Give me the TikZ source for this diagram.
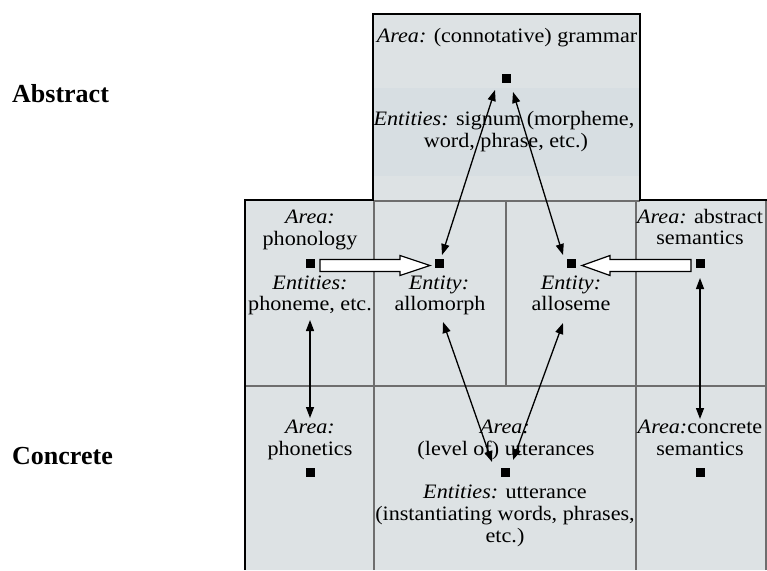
\documentclass[tikz,border=0pt]{standalone}
\usepackage{fontspec}
\setmainfont{Liberation Serif}[FakeStretch=1.08]
\newfontfamily\sidefont{Liberation Serif}
\usetikzlibrary{arrows.meta,calc}

\definecolor{cellfill}{RGB}{221,226,228}
\definecolor{bandfill}{RGB}{215,222,226}
\definecolor{gridgray}{RGB}{110,110,110}

\begin{document}
\begin{tikzpicture}[x=1pt,y=-1pt,
  txt/.style={anchor=base,inner sep=0pt,font=\fontsize{20.5}{22}\selectfont},
  side/.style={anchor=base west,inner sep=0pt,font=\sidefont\bfseries\fontsize{26}{30}\selectfont},
  dot/.style={fill=black,minimum size=9pt,inner sep=0pt},
  link/.style={line width=1.3pt,{Triangle[length=11pt,width=8pt]}-{Triangle[length=11pt,width=8pt]}},
  blockarrow/.style={draw=black,fill=white,line width=1.2pt,line join=miter},
  frame/.style={line width=2.8pt,line join=miter},
  gridline/.style={gridgray,line width=1.2pt}]

\useasboundingbox (0,0) rectangle (767,570);

% shaded area of the diagram
\fill[cellfill] (245,570) -- (245,200) -- (373,200) -- (373,14) -- (640,14)
  -- (640,200) -- (766,200) -- (766,570) -- cycle;
\fill[bandfill] (373,88) rectangle (640,176);

% cell divisions
\draw[gridline] (373,201) -- (640,201);
\draw[gridline] (374,200) -- (374,570);
\draw[gridline] (506,200) -- (506,386);
\draw[gridline] (636,200) -- (636,570);
\draw[gridline] (245,386) -- (766,386);
\draw[gridline] (766,200) -- (766,570);

% outer frame
\draw[frame] (245,570) -- (245,200) -- (373,200) -- (373,14) -- (640,14)
  -- (640,200) -- (767,200);

% level labels
\node[side] (abs) at (12,102) {Abstract};
\node[side] (con) at (12,464) {Concrete};

% grammar
\node[txt] (g1) at (507,42) {\textit{Area:} (connotative) grammar};
\node[txt] (g2) at (504,125) {\textit{Entities:} signum (morpheme,};
\node[txt] (g3) at (506,147) {word, phrase, etc.)};

% phonology
\node[txt] (p1) at (310,223) {\textit{Area:}};
\node[txt] (p2) at (310,245) {phonology};
\node[txt] (p3) at (310,289) {\textit{Entities:}};
\node[txt] (p4) at (310,310) {phoneme, etc.};

% allomorph
\node[txt] (m1) at (439,289) {\textit{Entity:}};
\node[txt] (m2) at (440,310) {allomorph};

% alloseme
\node[txt] (s1) at (571,289) {\textit{Entity:}};
\node[txt] (s2) at (571,310) {alloseme};

% abstract semantics
\node[txt] (a1) at (700,223) {\textit{Area:} abstract};
\node[txt] (a2) at (700,244) {semantics};

% phonetics
\node[txt] (t1) at (310,433) {\textit{Area:}};
\node[txt] (t2) at (310,455) {phonetics};

% utterances
\node[txt] (u1) at (505,433) {\textit{Area:}};
\node[txt] (u2) at (506,455) {(level of) utterances};
\node[txt] (u3) at (505,498) {\textit{Entities:} utterance};
\node[txt] (u4) at (505,520) {(instantiating words, phrases,};
\node[txt] (u5) at (505,542) {etc.)};

% concrete semantics
\node[txt] (c1) at (700,433) {\textit{Area:}concrete};
\node[txt] (c2) at (700,455) {semantics};

% markers
\node[dot] (gram)   at (506,78)  {};
\node[dot] (phonol) at (310,263) {};
\node[dot] (allom)  at (439,263) {};
\node[dot] (allos)  at (571,263) {};
\node[dot] (asem)   at (700,263) {};
\node[dot] (phonet) at (310,472) {};
\node[dot] (utt)    at (505,472) {};
\node[dot] (csem)   at (700,472) {};

% realisation links
\draw[link] ([shift={(3,-8)}]allom.center) -- ([shift={(-11,12)}]gram.center);
\draw[link] ([shift={(-8,-8)}]allos.center) -- ([shift={(7,14)}]gram.center);
\draw[link] ([shift={(4,59)}]allom.center) -- ([shift={(-13,-10)}]utt.center);
\draw[link] ([shift={(-8,60)}]allos.center) -- ([shift={(8,-12)}]utt.center);
\draw[link] ([shift={(0,57)}]phonol.center) -- ([shift={(0,-54)}]phonet.center);
\draw[link] ([shift={(0,15)}]asem.center) -- ([shift={(0,-53)}]csem.center);

% block arrows
\draw[blockarrow] ($(phonol)+(10,-3.5)$) -- ($(allom)+(-39,-3.5)$)
  -- ($(allom)+(-39,-7.5)$) -- ($(allom)+(-9,2.5)$) -- ($(allom)+(-39,12.5)$)
  -- ($(allom)+(-39,8.5)$) -- ($(phonol)+(10,8.5)$) -- cycle;
\draw[blockarrow] ($(asem)+(-9,-3.5)$) -- ($(allos)+(39,-3.5)$)
  -- ($(allos)+(39,-7.5)$) -- ($(allos)+(11,2.5)$) -- ($(allos)+(39,12.5)$)
  -- ($(allos)+(39,8.5)$) -- ($(asem)+(-9,8.5)$) -- cycle;

\end{tikzpicture}
\end{document}
